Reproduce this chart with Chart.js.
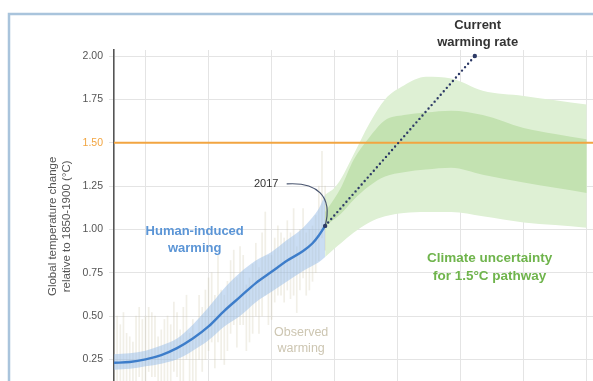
<!DOCTYPE html>
<html>
<head>
<meta charset="utf-8">
<script src="https://cdn.jsdelivr.net/npm/chart.js@4/dist/chart.umd.min.js"></script>
<style>
  html, body { margin: 0; padding: 0; background: #fff; }
  #wrap { width: 593px; height: 381px; position: relative; }
</style>
</head>
<body>
<div id="wrap"><canvas id="myChart" width="593" height="381"></canvas></div>
<script>
// y ticks shown on the left axis
const yTicks = [0.25, 0.5, 0.75, 1.0, 1.25, 1.5, 1.75, 2.0]
const xGridYears = [1960, 1980, 2000, 2020, 2040, 2060, 2080, 2100]

// observed warming (monthly spread per year, low / high)
const obsYears = []
for (let y = 1950; y <= 2017; y++) obsYears.push(y)
const obsLow = [
  0.02, 0.08, 0.10, 0.12, 0.02, 0.00, -0.02, 0.10, 0.15, 0.10,
  0.12, 0.18, 0.15, 0.15, 0.02, 0.05, 0.10, 0.10, 0.08, 0.18,
  0.15, 0.05, 0.12, 0.25, 0.05, 0.10, 0.02, 0.25, 0.18, 0.25,
  0.30, 0.35, 0.20, 0.35, 0.25, 0.22, 0.30, 0.40, 0.45, 0.32,
  0.45, 0.45, 0.30, 0.35, 0.40, 0.50, 0.40, 0.50, 0.62, 0.45,
  0.48, 0.58, 0.62, 0.62, 0.58, 0.65, 0.60, 0.62, 0.52, 0.65,
  0.72, 0.62, 0.65, 0.70, 0.75, 0.82, 0.95, 0.88
]
const obsHigh = [
  0.42, 0.50, 0.45, 0.52, 0.40, 0.38, 0.35, 0.50, 0.55, 0.48,
  0.50, 0.55, 0.52, 0.50, 0.38, 0.42, 0.48, 0.50, 0.45, 0.58,
  0.52, 0.42, 0.55, 0.62, 0.40, 0.48, 0.38, 0.62, 0.55, 0.65,
  0.72, 0.75, 0.62, 0.85, 0.65, 0.62, 0.70, 0.82, 0.88, 0.72,
  0.90, 0.85, 0.68, 0.72, 0.80, 0.92, 0.78, 0.98, 1.10, 0.85,
  0.85, 0.95, 1.02, 0.98, 0.95, 1.05, 0.98, 1.12, 0.90, 1.00,
  1.12, 0.98, 1.00, 1.02, 1.08, 1.25, 1.45, 1.25
]

// human-induced warming, central estimate and likely range
const humanYears = [1950, 1955, 1960, 1965, 1970, 1975, 1980, 1985, 1990, 1995, 2000, 2005, 2010, 2013, 2015, 2017]
const humanMid   = [0.23, 0.235, 0.25, 0.275, 0.315, 0.37, 0.44, 0.53, 0.61, 0.69, 0.755, 0.82, 0.875, 0.92, 0.965, 1.02]
const humanHigh  = [0.28, 0.285, 0.30, 0.33, 0.37, 0.45, 0.55, 0.66, 0.75, 0.82, 0.87, 0.94, 1.01, 1.07, 1.12, 1.20]
const humanLow   = [0.19, 0.195, 0.21, 0.225, 0.25, 0.30, 0.36, 0.44, 0.50, 0.58, 0.64, 0.70, 0.76, 0.79, 0.81, 0.84]

// 1.5°C pathway uncertainty (outer and inner ranges)
const pathYears  = [2017, 2020, 2022, 2026, 2031, 2036, 2042, 2049, 2057, 2067, 2080, 2090, 2100]
const outerHigh  = [1.20, 1.24, 1.29, 1.43, 1.61, 1.75, 1.83, 1.88, 1.87, 1.80, 1.77, 1.745, 1.72]
const innerHigh  = [1.10, 1.18, 1.24, 1.40, 1.53, 1.63, 1.66, 1.675, 1.685, 1.66, 1.585, 1.55, 1.52]
const innerLow   = [1.02, 1.06, 1.09, 1.17, 1.25, 1.305, 1.33, 1.345, 1.355, 1.315, 1.27, 1.24, 1.21]
const outerLow   = [0.84, 0.89, 0.92, 0.98, 1.04, 1.075, 1.095, 1.10, 1.10, 1.075, 1.04, 1.025, 1.01]

// current warming rate line
const rateYears  = [2017, 2064.5]
const rateValues = [1.02, 2.0]

const targetLevel = 1.5

function toPoints(xs, ys) {
    return xs.map((x, i) => ({x: x, y: ys[i]}))
}

const font = "'Liberation Sans', Arial, sans-serif"

const labelsPlugin = {
    id: 'labels',
    beforeDraw(chart) {
        let ctx = chart.ctx
        ctx.save()
        ctx.fillStyle = '#fff'
        ctx.fillRect(0, 0, chart.width, chart.height)
        // frame
        ctx.strokeStyle = '#a9c4dc'
        ctx.lineWidth = 2.5
        ctx.beginPath()
        ctx.moveTo(9, chart.height + 2)
        ctx.lineTo(9, 14)
        ctx.lineTo(chart.width + 2, 14)
        ctx.stroke()
        ctx.restore()
    },
    afterDraw(chart) {
        let ctx = chart.ctx
        let xs = chart.scales.x
        let ys = chart.scales.y
        let px = v => xs.getPixelForValue(v)
        let py = v => ys.getPixelForValue(v)
        ctx.save()
        ctx.textAlign = 'center'
        ctx.textBaseline = 'middle'

        // axis title
        ctx.save()
        ctx.translate(60, py(1.0) - 3)
        ctx.rotate(-Math.PI / 2)
        ctx.fillStyle = '#555'
        ctx.font = '11.5px ' + font
        ctx.fillText('Global temperature change', 0, -7)
        ctx.fillText('relative to 1850-1900 (°C)', 0, 6.5)
        ctx.restore()

        // 2017 callout
        let dx = px(2017), dy = py(1.02)
        let sx = px(2004.8), sy = py(1.262)
        ctx.strokeStyle = '#4a5670'
        ctx.lineWidth = 1.2
        ctx.beginPath()
        ctx.moveTo(sx, sy)
        ctx.bezierCurveTo(sx + 30, sy - 2, dx + 8, dy - 30, dx, dy)
        ctx.stroke()
        ctx.fillStyle = '#333'
        ctx.font = '11px ' + font
        ctx.fillText('2017', px(1998.3), py(1.262))

        ctx.font = 'bold 13px ' + font
        ctx.fillStyle = '#5b95d6'
        ctx.fillText('Human-induced', px(1975.6), py(0.987))
        ctx.fillText('warming', px(1975.6), py(0.888))

        ctx.font = '12.5px ' + font
        ctx.fillStyle = '#cdc6b2'
        ctx.fillText('Observed', px(2009.4), py(0.402))
        ctx.fillText('warming', px(2009.4), py(0.311))

        ctx.font = 'bold 13.5px ' + font
        ctx.fillStyle = '#6fb44c'
        ctx.fillText('Climate uncertainty', px(2069.2), py(0.836))
        ctx.fillText('for 1.5°C pathway', px(2069.2), py(0.728))

        ctx.font = 'bold 13px ' + font
        ctx.fillStyle = '#333'
        ctx.fillText('Current', px(2065.4), py(2.178))
        ctx.fillText('warming rate', px(2065.4), py(2.08))

        // end dots of the rate line
        ctx.fillStyle = '#2d3a66'
        ctx.beginPath()
        ctx.arc(px(rateYears[1]), py(rateValues[1]), 2.2, 0, Math.PI * 2)
        ctx.fill()
        ctx.beginPath()
        ctx.arc(dx, dy, 2.2, 0, Math.PI * 2)
        ctx.fill()
        ctx.restore()
    }
}

function createChart() {
    let ctx = document.getElementById('myChart')
    new Chart(ctx, {
        type: 'line',
        data: {
            datasets: [
                {
                    label: 'rate', data: toPoints(rateYears, rateValues),
                    borderColor: '#2d3a66', borderWidth: 2.4, borderDash: [0, 4.6],
                    borderCapStyle: 'round', pointRadius: 0, fill: false, order: 1
                },
                {
                    label: '1.5', data: [{x: 1950, y: targetLevel}, {x: 2102, y: targetLevel}],
                    borderColor: '#f2a541', borderWidth: 2, pointRadius: 0, fill: false, order: 2
                },
                {
                    label: 'human', data: toPoints(humanYears, humanMid),
                    borderColor: '#3d7dca', borderWidth: 2.4, pointRadius: 0,
                    cubicInterpolationMode: 'monotone', fill: false, order: 3
                },
                {
                    label: 'humanHigh', data: toPoints(humanYears, humanHigh),
                    borderWidth: 0, pointRadius: 0, cubicInterpolationMode: 'monotone',
                    fill: '+1', backgroundColor: 'rgba(150,188,232,0.5)', order: 4
                },
                {
                    label: 'humanLow', data: toPoints(humanYears, humanLow),
                    borderWidth: 0, pointRadius: 0, cubicInterpolationMode: 'monotone', fill: false, order: 4
                },
                {
                    type: 'bar', label: 'observed',
                    data: obsYears.map((y, i) => ({x: y, y: [obsLow[i], obsHigh[i]]})),
                    backgroundColor: 'rgba(200,190,160,0.25)', barThickness: 1, order: 5
                },
                {
                    label: 'innerHigh', data: toPoints(pathYears, innerHigh),
                    borderWidth: 0, pointRadius: 0, cubicInterpolationMode: 'monotone',
                    fill: '+1', backgroundColor: '#c3e2b1', order: 6
                },
                {
                    label: 'innerLow', data: toPoints(pathYears, innerLow),
                    borderWidth: 0, pointRadius: 0, cubicInterpolationMode: 'monotone', fill: false, order: 6
                },
                {
                    label: 'outerHigh', data: toPoints(pathYears, outerHigh),
                    borderWidth: 0, pointRadius: 0, cubicInterpolationMode: 'monotone',
                    fill: '+1', backgroundColor: '#def0d4', order: 7
                },
                {
                    label: 'outerLow', data: toPoints(pathYears, outerLow),
                    borderWidth: 0, pointRadius: 0, cubicInterpolationMode: 'monotone', fill: false, order: 7
                }
            ]
        },
        options: {
            responsive: false,
            animation: false,
            layout: {padding: {top: 50, right: 0, bottom: 0, left: 0}},
            plugins: {legend: {display: false}, tooltip: {enabled: false}},
            scales: {
                x: {
                    type: 'linear', min: 1950, max: 2102, offset: false,
                    afterBuildTicks(scale) { scale.ticks = xGridYears.map(v => ({value: v})) },
                    afterFit(scale) {
                        scale.height = 0
                        scale.paddingLeft = 0
                        scale.paddingRight = 0
                    },
                    ticks: {display: false, padding: 0},
                    grid: {color: '#e4e4e4', drawTicks: false, lineWidth: 1, offset: false},
                    border: {display: false}
                },
                y: {
                    type: 'linear', min: 0.125, max: 2.035,
                    afterBuildTicks(scale) { scale.ticks = yTicks.map(v => ({value: v})) },
                    afterFit(scale) {
                        scale.width = 114
                        scale.paddingTop = 0
                        scale.paddingBottom = 0
                    },
                    ticks: {
                        padding: 6,
                        font: {family: font, size: 10.5},
                        color: c => c.tick && c.tick.value === targetLevel ? '#f2a541' : '#555',
                        callback: v => v.toFixed(2)
                    },
                    grid: {color: '#e4e4e4', tickLength: 5, lineWidth: 1},
                    border: {display: true, color: '#555', width: 1.6}
                }
            }
        },
        plugins: [labelsPlugin]
    })
}

createChart()
</script>
</body>
</html>
